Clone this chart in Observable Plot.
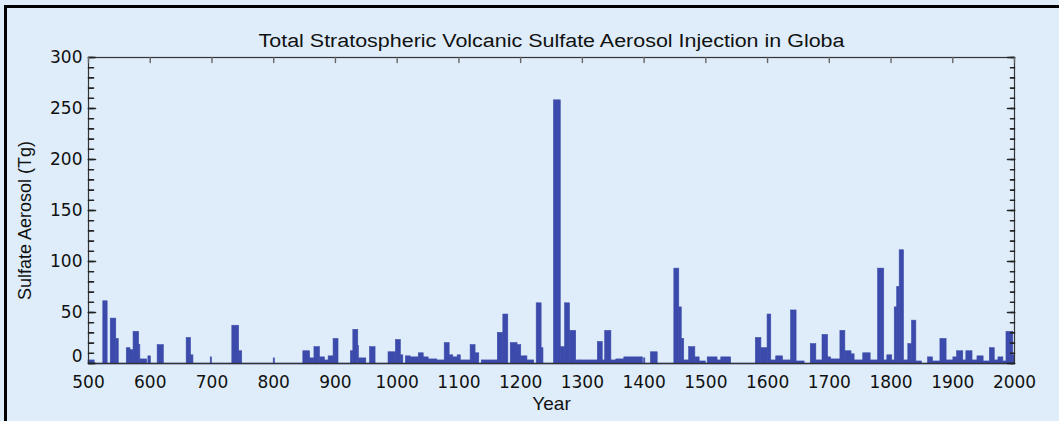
<!DOCTYPE html>
<html><head><meta charset="utf-8">
<script src="https://cdn.jsdelivr.net/npm/d3@7"></script>
<script src="https://cdn.jsdelivr.net/npm/@observablehq/plot@0.6"></script>
<style>
html,body{margin:0;padding:0;background:#deedf9;}
#wrap{position:relative;width:1059px;height:421px;background:#deedf9;overflow:hidden}
#topline{position:absolute;left:4px;top:5px;right:0;height:3px;background:#000}
#leftline{position:absolute;left:4px;top:5px;bottom:0;width:3px;background:#000}
#chart{position:absolute;left:0;top:0}
</style></head>
<body><div id="wrap"><div id="chart"></div><div id="topline"></div><div id="leftline"></div></div>
<script>
const title = "Total Stratospheric Volcanic Sulfate Aerosol Injection in Globa";
const xLabel = "Year";
const yLabel = "Sulfate Aerosol (Tg)";
const xTicks = [500,600,700,800,900,1000,1100,1200,1300,1400,1500,1600,1700,1800,1900,2000];
const yTicks = [50,100,150,200,250,300];

const startYear = [500,524,536,545,562,568,573,582,584,597,612,659,666,698,733,744,800,848,859,866,875,883,889,897,925,929,937,938,956,
  986,998,1006,1014,1022,1035,1043,1051,1065,1077,1085,1091,1098,1103,1119,1127,1137,1163,1172,1184,1195,1201,1211,1226,1234,
  1254,1265,1272,1280,1290,1298,1325,1333,1337,1347,1355,1368,1400,1411,
  1449,1457,1461,1465,1473,1483,1490,1503,1519,1525,1581,1590,1600,1606,1614,1625,1638,1647,1670,1679,1689,1698,1703,1718,1726,1736,1741,
  1755,1767,1779,1789,1794,1802,1806,1810,1814,1821,1828,1834,1841,1860,1868,1880,1890,1901,1907,1917,1922,1932,1940,1950,1960,1968,1974,1982,1987,1998];
const endYear = [510,531,545,549,568,573,582,584,595,601,622,666,670,700,744,749,802,859,866,875,883,889,897,905,929,937,938,950,965,
  998,1006,1010,1022,1035,1043,1051,1065,1077,1085,1091,1098,1103,1119,1127,1133,1163,1172,1180,1195,1201,1211,1222,1234,1237,
  1265,1272,1280,1290,1298,1325,1333,1337,1347,1355,1368,1398,1402,1422,
  1457,1461,1465,1473,1483,1490,1500,1519,1525,1541,1590,1600,1606,1614,1625,1638,1647,1660,1679,1689,1698,1703,1718,1726,1736,1741,1755,
  1767,1779,1789,1794,1802,1806,1810,1814,1821,1828,1834,1841,1850,1868,1880,1890,1901,1907,1917,1922,1932,1940,1950,1960,1968,1974,1982,1987,1998,2000];
const sulfateTg = [3,61,44,24,15,13,31,18,4,7,18,25,8,6,37,12,5,12,5,16,6,3,7,24,12,33,17,5,16,
  11,23,8,7,6,10,6,4,3,20,8,6,8,3,18,10,3,30,48,20,18,7,3,59,15,
  258,16,59,32,3,3,21,3,32,3,4,6,5,11,
  93,55,24,3,16,6,2,6,3,6,25,15,48,3,7,3,52,2,19,3,28,6,4,32,12,9,3,
  10,3,93,3,8,3,55,75,111,3,19,42,2,6,2,24,3,6,12,3,12,3,7,2,15,3,6,2,31,8];

const bars = startYear.map((s,i)=>({x1:s, x2:endYear[i], y:sulfateTg[i]}));
const minorY = d3.range(0,301,10);
const majorY = d3.range(0,301,50);
const font = "'DejaVu Sans', sans-serif";
const labelFont = "'Liberation Sans', Arial, sans-serif";
const barColor = "#3c4bab";
const tickShape = {draw(ctx, l) { ctx.moveTo(0, 0); ctx.lineTo(0, -l); }};

const plot = Plot.plot({
  width: 1059, height: 421,
  marginLeft: 88, marginRight: 45, marginTop: 57, marginBottom: 58,
  style: {background: "transparent", fontFamily: font, fontSize: "16px", color: "#111"},
  x: {domain: [500,2000], axis: null},
  y: {domain: [0,300], axis: null},
  marks: [
    Plot.rectY(bars, {x1:"x1", x2:"x2", y:"y", fill: barColor, stroke: barColor, strokeWidth: 0.6}),
    Plot.ruleY([0], {stroke: "#2a3170", strokeWidth: 1.5}),
    Plot.frame({stroke: "#333", strokeWidth: 1.2}),
    // inward ticks
    Plot.vector(minorY, {x: 500, y: d=>d, length: 5, rotate: 90, anchor: "start", shape: tickShape, stroke: "#222", strokeWidth: 1.6}),
    Plot.vector(majorY, {x: 500, y: d=>d, length: 7, rotate: 90, anchor: "start", shape: tickShape, stroke: "#222", strokeWidth: 1.6}),
    Plot.vector(minorY, {x: 2000, y: d=>d, length: 4, rotate: -90, anchor: "start", shape: tickShape, stroke: "#222", strokeWidth: 1.6}),
    Plot.vector(majorY, {x: 2000, y: d=>d, length: 7, rotate: -90, anchor: "start", shape: tickShape, stroke: "#222", strokeWidth: 1.6}),
    Plot.vector(xTicks, {x: d=>d, y: 300, length: 5, rotate: 180, anchor: "start", shape: tickShape, stroke: "#666", strokeWidth: 1.4}),
    // tick labels
    Plot.axisX(xTicks, {anchor: "bottom", tickSize: 0, tickPadding: 12, label: null, tickFormat: d => String(d), fontSize: 17, fill: "#111"}),
    Plot.axisY(yTicks, {anchor: "left", tickSize: 0, tickPadding: 6, label: null, tickFormat: d => String(d), fontSize: 17, fill: "#111"}),
    Plot.axisY([0], {anchor: "left", tickSize: 0, tickPadding: 6, label: null, tickFormat: d => String(d), fontSize: 17, dy: -7, fill: "#111"}),
    // titles
    Plot.text([title], {frameAnchor: "top", dy: -23, fontSize: 18, fontFamily: labelFont, fill: "#111", className: "chart-title"}),
    Plot.text([xLabel], {frameAnchor: "bottom", dy: 46, fontSize: 19, fontFamily: labelFont, fill: "#111"}),
    Plot.text([yLabel], {frameAnchor: "left", textAnchor: "middle", rotate: -90, dx: -63, dy: 10, fontSize: 18, fontFamily: labelFont, fill: "#111"})
  ]
});
// stretch title to the reference's width
d3.select(plot).selectAll("g.chart-title text").attr("textLength", 586).attr("lengthAdjust", "spacingAndGlyphs");
document.getElementById("chart").appendChild(plot);
</script>
</body></html>
